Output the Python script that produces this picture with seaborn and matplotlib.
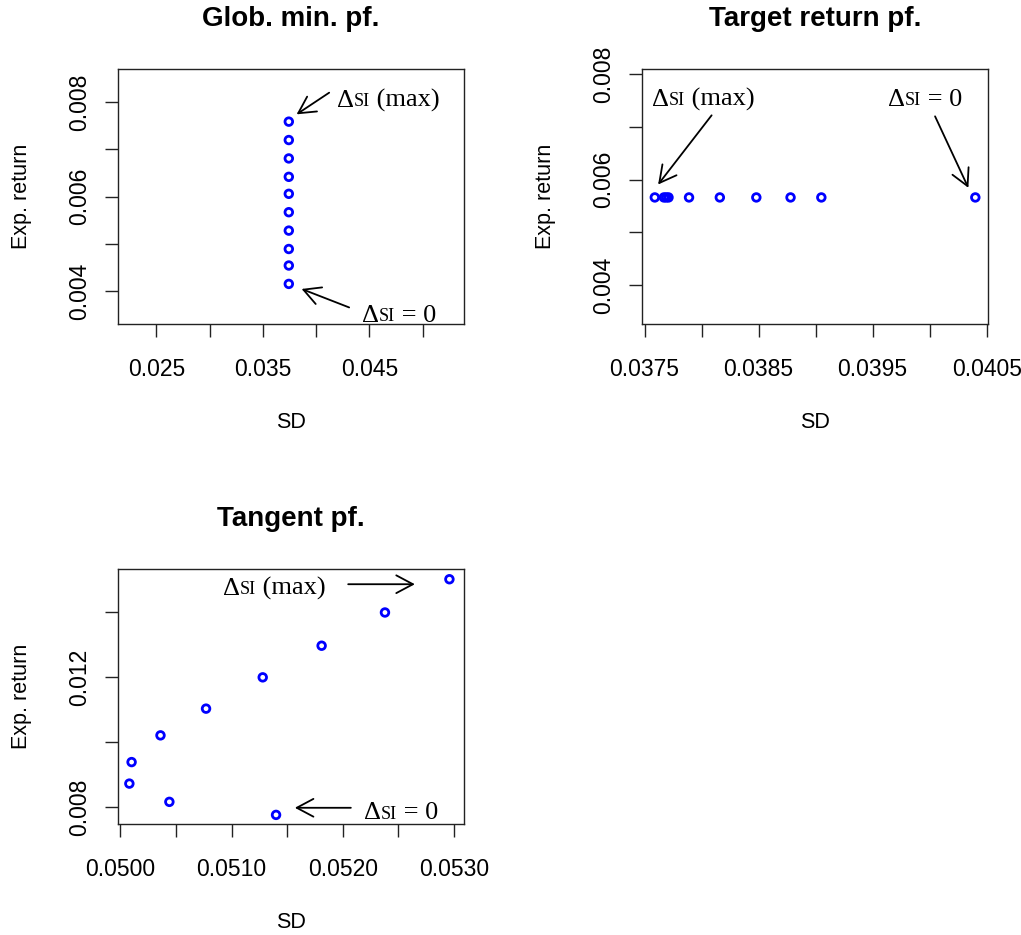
#libraries and packages
import pandas as pd
import seaborn as sns
import matplotlib.pyplot as plt

#values (SD vs expected return)
gmin_sd = [0.03744] * 10
gmin_ret = [0.00415, 0.00454, 0.00489, 0.00528, 0.00567,
            0.00606, 0.00642, 0.00681, 0.00720, 0.00759]

target_sd = [0.03759, 0.03767, 0.03769, 0.03771, 0.03789,
             0.03816, 0.03848, 0.03878, 0.03905, 0.04040]
target_ret = [0.00566] * 10

tan_sd = [0.05296, 0.05238, 0.05181, 0.05128, 0.05077,
          0.05036, 0.05010, 0.05008, 0.05044, 0.05140]
tan_ret = [0.01500, 0.01398, 0.01296, 0.01199, 0.01103,
           0.01021, 0.00939, 0.00873, 0.00817, 0.00777]

#tick positions and labels (R skips every other label)
gmin_xticks = [0.025, 0.030, 0.035, 0.040, 0.045, 0.050]
gmin_xlabels = ['0.025', '', '0.035', '', '0.045', '']
ret_yticks = [0.004, 0.005, 0.006, 0.007, 0.008]
ret_ylabels = ['0.004', '', '0.006', '', '0.008']
target_xticks = [0.0375, 0.0380, 0.0385, 0.0390, 0.0395, 0.0400, 0.0405]
target_xlabels = ['0.0375', '', '0.0385', '', '0.0395', '', '0.0405']
tan_xticks = [0.0500, 0.0505, 0.0510, 0.0515, 0.0520, 0.0525, 0.0530]
tan_xlabels = ['0.0500', '', '0.0510', '', '0.0520', '', '0.0530']
tan_yticks = [0.008, 0.010, 0.012, 0.014]
tan_ylabels = ['0.008', '', '0.012', '']

sns.set_style('white')
plt.rcParams['font.family'] = ['Liberation Sans', 'DejaVu Sans']
plt.rcParams['text.color'] = 'black'
plt.rcParams['axes.labelcolor'] = 'black'
SERIF = ['Liberation Serif', 'DejaVu Serif']


def delta_label(ax, x, y, rest):
    #big Delta, small "SI", then the rest at full size, all on one baseline
    t1 = ax.text(x, y, 'Δ', fontsize=19, family=SERIF, va='baseline', color='black')
    t2 = ax.annotate('SI', xy=(1, 0), xycoords=t1, xytext=(0, 1.3),
                     textcoords='offset points', fontsize=13, family=SERIF,
                     va='bottom', color='black')
    ax.annotate(rest, xy=(1, 0), xycoords=t2, xytext=(0, -1.3),
                textcoords='offset points', fontsize=19, family=SERIF,
                va='bottom', color='black')


def arrow(ax, tail, head):
    ax.annotate('', xy=head, xytext=tail,
                arrowprops=dict(arrowstyle='->,head_length=0.6,head_width=0.32',
                                lw=1.3, color='black', shrinkA=0, shrinkB=0,
                                mutation_scale=20))


def style_panel(ax, title, xticks, xlabels, yticks, ylabels, xlim, ylim):
    ax.set_xlim(xlim)
    ax.set_ylim(ylim)
    ax.set_xticks(xticks, xlabels)
    ax.set_yticks(yticks, ylabels, rotation=90, va='center')
    ax.tick_params(axis='both', direction='out', length=9.5, width=1.0,
                   labelsize=16.5, colors='#222222', labelcolor='black',
                   bottom=True, left=True)
    ax.tick_params(axis='x', pad=15)
    ax.tick_params(axis='y', pad=10)
    for s in ax.spines.values():
        s.set_linewidth(1.0)
        s.set_color('#222222')
    ax.set_title(title, fontsize=20, fontweight='bold', pad=31)
    ax.set_xlabel('SD', fontsize=15.5, labelpad=22)
    ax.set_ylabel('Exp. return', fontsize=15.5, labelpad=26)


fig, axes = plt.subplots(2, 2, figsize=(10.21, 9.35))
plt.subplots_adjust(left=0.1156, right=0.968, bottom=0.1187, top=0.9259,
                    wspace=0.5165, hspace=0.963)
axes[1, 1].remove()

point_kws = dict(marker='o', s=30, facecolor='none', edgecolor='blue', linewidth=2.0)

#Global minimum portfolio
ax = axes[0, 0]
gmin = pd.DataFrame({'sd': gmin_sd, 'ret': gmin_ret})
sns.scatterplot(data=gmin, x='sd', y='ret', ax=ax, **point_kws)
style_panel(ax, 'Glob. min. pf.', gmin_xticks, gmin_xlabels, ret_yticks, ret_ylabels,
            (0.021407, 0.053874), (0.0033, 0.0087))
delta_label(ax, 0.04192, 0.00790, ' (max)')
arrow(ax, (0.041229, 0.008204), (0.038171, 0.007745))
delta_label(ax, 0.04427, 0.003353, ' = 0')
arrow(ax, (0.043105, 0.003651), (0.038640, 0.004043))

#Target return portfolio
ax = axes[0, 1]
target = pd.DataFrame({'sd': target_sd, 'ret': target_ret})
sns.scatterplot(data=target, x='sd', y='ret', ax=ax, **point_kws)
style_panel(ax, 'Target return pf.', target_xticks, target_xlabels, ret_yticks, ret_ylabels,
            (0.037482, 0.040514), (0.00326, 0.00809))
delta_label(ax, 0.037561, 0.007388, ' (max)')
arrow(ax, (0.038088, 0.007217), (0.037619, 0.005905))
delta_label(ax, 0.039632, 0.007388, ' = 0')
arrow(ax, (0.040047, 0.007198), (0.040339, 0.005842))

#Tangent portfolio
ax = axes[1, 0]
tan = pd.DataFrame({'sd': tan_sd, 'ret': tan_ret})
sns.scatterplot(data=tan, x='sd', y='ret', ax=ax, **point_kws)
style_panel(ax, 'Tangent pf.', tan_xticks, tan_xlabels, tan_yticks, tan_ylabels,
            (0.049978, 0.05309), (0.00749, 0.015305))
delta_label(ax, 0.050924, 0.014520, ' (max)')
arrow(ax, (0.052049, 0.014847), (0.052649, 0.014847))
delta_label(ax, 0.052190, 0.007633, ' = 0')
arrow(ax, (0.052073, 0.007988), (0.051569, 0.007988))

plt.savefig('out.png', dpi=100)
